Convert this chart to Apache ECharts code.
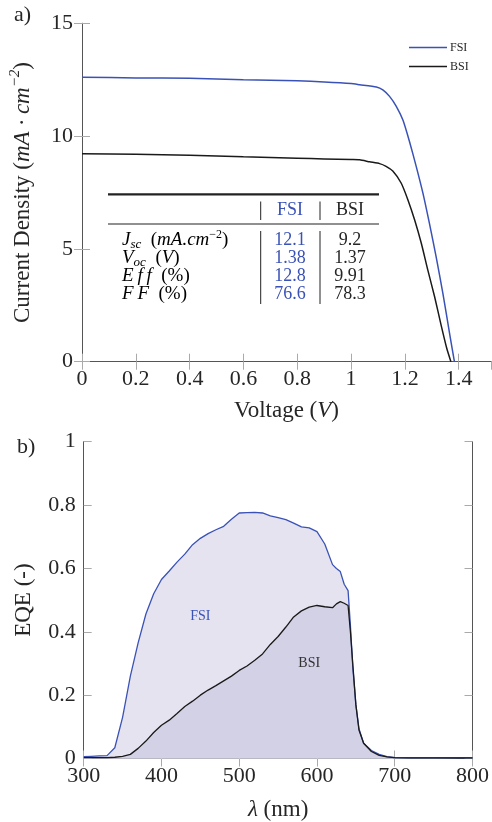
<!DOCTYPE html>
<html><head><meta charset="utf-8">
<script src="https://cdn.jsdelivr.net/npm/echarts@6/dist/echarts.min.js"></script>
<style>html,body{margin:0;padding:0;background:#fff}#c{width:492px;height:822px}</style>
</head><body><div id="c"></div>
<script>
// ---- J-V data (panel a) ----
const vFsi = [0,0.2,0.4,0.6,0.8,0.9,1.0,1.032,1.094,1.118,1.143,1.168,1.193,1.217,1.242,1.267,1.291,1.316,1.341,1.366,1.384];
const jFsi = [12.61,12.58,12.56,12.50,12.45,12.40,12.33,12.28,12.18,12.05,11.76,11.32,10.70,9.76,8.66,7.47,6.14,4.66,3.04,1.26,0];
const vBsi = [0,0.2,0.4,0.6,0.8,0.9,1.0,1.032,1.069,1.106,1.13,1.155,1.186,1.211,1.236,1.261,1.285,1.31,1.335,1.355,1.371];
const jBsi = [9.22,9.20,9.15,9.08,9.02,8.99,8.96,8.95,8.86,8.78,8.66,8.45,7.92,7.18,6.29,5.25,4.07,2.90,1.60,0.62,0];

// ---- EQE data (panel b) ----
const lambda = [300,310,320,330,340,350,360,370,380,390,400,410,420,430,440,450,460,470,480,490,500,510,520,530,540,550,560,570,580,590,600,610,620,625,630,635,640,643,646,650,654,660,670,680,690,700,720,750,800];
const eqeFsi = [0.006,0.007,0.008,0.009,0.034,0.13,0.26,0.365,0.456,0.52,0.565,0.592,0.62,0.645,0.675,0.695,0.71,0.722,0.733,0.755,0.775,0.776,0.777,0.775,0.766,0.76,0.754,0.743,0.731,0.728,0.716,0.677,0.612,0.60,0.59,0.55,0.53,0.42,0.29,0.17,0.094,0.048,0.025,0.013,0.006,0.003,0.002,0.002,0.002];
const eqeBsi = [0.003,0.003,0.003,0.003,0.004,0.007,0.013,0.032,0.055,0.082,0.105,0.121,0.142,0.164,0.181,0.2,0.216,0.23,0.245,0.26,0.278,0.292,0.31,0.33,0.36,0.385,0.415,0.447,0.466,0.478,0.483,0.479,0.476,0.488,0.495,0.49,0.483,0.40,0.30,0.17,0.09,0.048,0.022,0.01,0.005,0.003,0.002,0.002,0.002];

// ---- table (inset in panel a) ----
const tableHead = ['FSI','BSI'];
const tableLabels = ['{i|J}{sub|sc}{n|  (}{i|mA.cm}{sup|−2}{n|)}','{i|V}{sub|oc}{n|  (}{i|V}{n|)}','{i|E\u2009f\u2009f}{n|  (%)}','{i|F\u2009F}{n|  (%)}'];
const tableFsi = ['12.1','1.38','12.8','76.6'];
const tableBsi = ['9.2','1.37','9.91','78.3'];

const BLUE = '#3a52b6';
const SERIF = '"Liberation Serif", "DejaVu Serif", serif';
const TXT = '#262626';

const chart = echarts.init(document.getElementById('c'));

function axisBase(extra) {
  return Object.assign({
    type: 'value',
    axisLine: {show: true, lineStyle: {color: '#555', width: 1}},
    axisTick: {show: true, inside: true, length: 8, lineStyle: {color: '#aaa'}},
    splitLine: {show: false},
    axisLabel: {color: TXT, fontFamily: SERIF, fontSize: 22}
  }, extra);
}
const richMain = {
  n: {fontFamily: SERIF, fontSize: 23, color: TXT, lineHeight: 30},
  i: {fontFamily: SERIF, fontSize: 23, fontStyle: 'italic', color: TXT, lineHeight: 30},
  sup: {fontFamily: SERIF, fontSize: 15, fontStyle: 'italic', color: TXT, verticalAlign: 'top', lineHeight: 15}
};

const rowY = [240, 258.3, 276.3, 294.3];
const graphic = [];
graphic.push({type: 'text', x: 14, y: 4, style: {text: 'a)', font: '22px ' + SERIF, fill: TXT}});
graphic.push({type: 'text', x: 17, y: 436, style: {text: 'b)', font: '22px ' + SERIF, fill: TXT}});
// table lines
graphic.push({type: 'line', shape: {x1: 108, y1: 194.3, x2: 379, y2: 194.3}, style: {stroke: '#222', lineWidth: 2.2}});
graphic.push({type: 'line', shape: {x1: 108, y1: 224, x2: 379, y2: 224}, style: {stroke: '#222', lineWidth: 1.1}});
[260.7, 320].forEach(x => {
  graphic.push({type: 'line', shape: {x1: x, y1: 201.5, x2: x, y2: 220}, style: {stroke: '#222', lineWidth: 1}});
  graphic.push({type: 'line', shape: {x1: x, y1: 231, x2: x, y2: 304}, style: {stroke: '#222', lineWidth: 1}});
});
graphic.push({type: 'text', x: 290, y: 210.5, style: {text: tableHead[0], font: '18px ' + SERIF, fill: BLUE, align: 'center', verticalAlign: 'middle'}});
graphic.push({type: 'text', x: 350, y: 210.5, style: {text: tableHead[1], font: '18px ' + SERIF, fill: TXT, align: 'center', verticalAlign: 'middle'}});
tableLabels.forEach((t, k) => {
  graphic.push({type: 'text', x: 122, y: rowY[k], style: {
    text: t, align: 'left', verticalAlign: 'middle',
    rich: {
      n: {fontFamily: SERIF, fontSize: 19, color: TXT, lineHeight: 22},
      i: {fontFamily: SERIF, fontSize: 19, fontStyle: 'italic', color: TXT, lineHeight: 22},
      sub: {fontFamily: SERIF, fontSize: 13, fontStyle: 'italic', color: TXT, verticalAlign: 'bottom', lineHeight: 12},
      sup: {fontFamily: SERIF, fontSize: 12, color: TXT, verticalAlign: 'top', lineHeight: 12}
    }
  }});
  graphic.push({type: 'text', x: 290, y: rowY[k], style: {text: tableFsi[k], font: '18px ' + SERIF, fill: BLUE, align: 'center', verticalAlign: 'middle'}});
  graphic.push({type: 'text', x: 350, y: rowY[k], style: {text: tableBsi[k], font: '18px ' + SERIF, fill: TXT, align: 'center', verticalAlign: 'middle'}});
});

const option = {
  animation: false,
  backgroundColor: '#fff',
  grid: [
    {left: 82, top: 23.3, width: 409, height: 338.4},
    {left: 83.7, top: 441.7, width: 393, height: 322}
  ],
  legend: {
    data: ['FSI', 'BSI'], orient: 'vertical', left: 404, top: 36.5,
    icon: 'rect', itemWidth: 38, itemHeight: 1.5, itemGap: 7,
    textStyle: {fontFamily: SERIF, fontSize: 12, color: TXT, padding: [0,0,0,-2]}
  },
  xAxis: [
    axisBase({gridIndex: 0, min: 0, max: 1.52, interval: 0.2, position: 'bottom',
      axisLabel: {color: TXT, fontFamily: SERIF, fontSize: 22, margin: 7, showMaxLabel: false},
      name: '{n|Voltage (}{i|V}{n|)}', nameLocation: 'middle', nameGap: 34,
      nameTextStyle: {rich: richMain}}),
    axisBase({gridIndex: 0, min: 0, max: 1.52, interval: 0.2, position: 'top', axisLabel: {show: false}}),
    axisBase({gridIndex: 1, min: 300, max: 800, interval: 100, position: 'bottom',
      axisLabel: {color: TXT, fontFamily: SERIF, fontSize: 22, margin: 7},
      name: '{i|λ}{n| (nm)}', nameLocation: 'middle', nameGap: 36,
      nameTextStyle: {rich: richMain}}),
    axisBase({gridIndex: 1, min: 300, max: 800, interval: 100, position: 'top', axisLabel: {show: false}})
  ],
  yAxis: [
    axisBase({gridIndex: 0, min: 0, max: 15, interval: 5, position: 'left',
      axisLabel: {color: TXT, fontFamily: SERIF, fontSize: 22, margin: 9},
      name: '{n|Current Density (}{i|mA · cm}{sup|−2}{n|)}', nameLocation: 'middle', nameGap: 44,
      nameTextStyle: {rich: richMain}}),
    axisBase({gridIndex: 0, min: 0, max: 15, interval: 5, position: 'right', axisLabel: {show: false}}),
    axisBase({gridIndex: 1, min: 0, max: 1, interval: 0.2, position: 'left',
      axisLabel: {color: TXT, fontFamily: SERIF, fontSize: 22, margin: 8},
      name: 'EQE (-)', nameLocation: 'middle', nameGap: 48,
      nameTextStyle: {fontFamily: SERIF, fontSize: 23, color: TXT}}),
    axisBase({gridIndex: 1, min: 0, max: 1, interval: 0.2, position: 'right', axisLabel: {show: false}})
  ],
  series: [
    {name: 'FSI', type: 'line', xAxisIndex: 0, yAxisIndex: 0, showSymbol: false, symbol: 'none', smooth: 0.2,
      color: BLUE, lineStyle: {color: BLUE, width: 1.5}, itemStyle: {color: BLUE},
      data: vFsi.map((v, i) => [v, jFsi[i]])},
    {name: 'BSI', type: 'line', xAxisIndex: 0, yAxisIndex: 0, showSymbol: false, symbol: 'none', smooth: 0.2,
      color: '#1a1a1a', lineStyle: {color: '#1a1a1a', width: 1.5}, itemStyle: {color: '#1a1a1a'},
      data: vBsi.map((v, i) => [v, jBsi[i]])},
    {name: 'FSI EQE', type: 'line', xAxisIndex: 2, yAxisIndex: 2, showSymbol: false, symbol: 'none',
      lineStyle: {color: BLUE, width: 1.3}, itemStyle: {color: BLUE},
      areaStyle: {color: '#e5e3f0', opacity: 1},
      data: lambda.map((l, i) => [l, eqeFsi[i]]),
      markPoint: {symbol: 'rect', symbolSize: 1, itemStyle: {color: 'rgba(0,0,0,0)'},
        label: {show: true, position: 'inside', formatter: 'FSI', color: BLUE, fontFamily: SERIF, fontSize: 14},
        data: [{coord: [450, 0.448]}]}},
    {name: 'BSI EQE', type: 'line', xAxisIndex: 2, yAxisIndex: 2, showSymbol: false, symbol: 'none',
      lineStyle: {color: '#1a1a1a', width: 1.3}, itemStyle: {color: '#1a1a1a'},
      areaStyle: {color: '#d3d1e5', opacity: 1},
      data: lambda.map((l, i) => [l, eqeBsi[i]]),
      markPoint: {symbol: 'rect', symbolSize: 1, itemStyle: {color: 'rgba(0,0,0,0)'},
        label: {show: true, position: 'inside', formatter: 'BSI', color: '#333', fontFamily: SERIF, fontSize: 14},
        data: [{coord: [590, 0.30]}]}}
  ],
  graphic: graphic
};
chart.setOption(option);
</script>
</body></html>
